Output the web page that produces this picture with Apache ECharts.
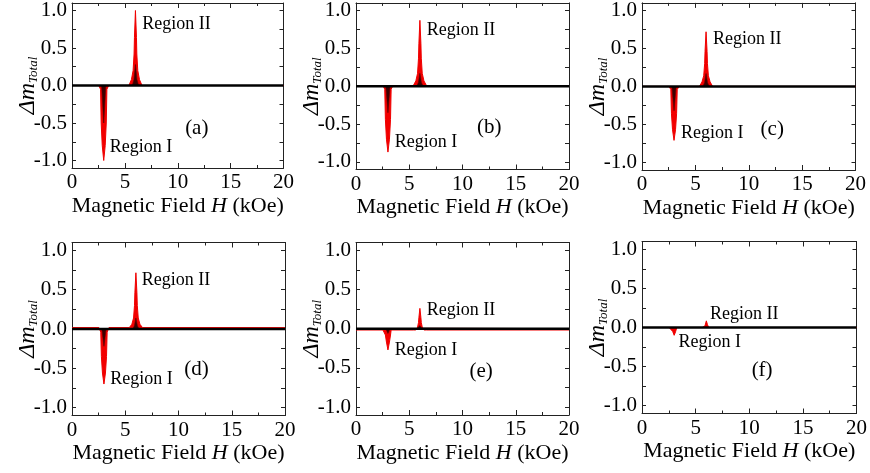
<!DOCTYPE html>
<html><head><meta charset="utf-8">
<script src="https://cdn.jsdelivr.net/npm/echarts@6/dist/echarts.min.js"></script>
<style>html,body{margin:0;padding:0;background:#fff}#c{width:870px;height:473px}</style>
</head><body><div id="c"></div>
<script>
// ---- data ----
const panelTags = ['(a)', '(b)', '(c)', '(d)', '(e)', '(f)'];
const xTicks = [0, 5, 10, 15, 20];
const yTickLabels = [-1.0, -0.5, 0.0, 0.5, 1.0];
const yTickMarks = [-1.0, -0.75, -0.5, -0.25, 0.0, 0.25, 0.5, 0.75, 1.0];

// field values (kOe) for the bright red envelope
const fieldRed = [0, 2.53, 2.70, 2.76, 2.86, 3.0, 3.14, 3.24, 3.30, 3.47, 5.38, 5.62, 5.78, 5.87, 5.905, 6.0, 6.095, 6.13, 6.22, 6.38, 6.62, 20];
const redA = [0, 0, -0.05, -0.5, -0.8, -1.0, -0.8, -0.5, -0.05, 0, 0, 0.08, 0.2, 0.42, 0.64, 1.0, 0.64, 0.42, 0.2, 0.08, 0, 0];
const redB = [0.008, 0.008, -0.04, -0.44, -0.7, -0.87, -0.7, -0.44, -0.04, 0.008, 0.008, 0.07, 0.17, 0.37, 0.56, 0.87, 0.56, 0.37, 0.17, 0.07, 0.008, 0.008];
const redC = [0, 0, -0.04, -0.36, -0.57, -0.71, -0.57, -0.36, -0.04, 0, 0, 0.06, 0.14, 0.3, 0.46, 0.72, 0.46, 0.3, 0.14, 0.06, 0, 0];
const redD = [0.018, 0.018, -0.04, -0.35, -0.56, -0.70, -0.56, -0.35, -0.04, 0.018, 0.018, 0.06, 0.14, 0.3, 0.46, 0.715, 0.46, 0.3, 0.14, 0.06, 0.018, 0.018];
const redE = [-0.016, -0.016, -0.016, -0.08, -0.17, -0.27, -0.17, -0.08, -0.016, -0.016, -0.016, -0.016, 0.02, 0.08, 0.14, 0.26, 0.14, 0.08, 0.02, -0.016, -0.016, -0.016];
const redF = [0, 0, 0, 0, -0.05, -0.10, -0.05, 0, 0, 0, 0, 0, 0, 0.02, 0.04, 0.085, 0.04, 0.02, 0, 0, 0, 0];

// field values (kOe) for the dark core
const fieldDark = [0, 2.8, 2.9, 3.0, 3.1, 3.2, 5.7, 5.86, 6.0, 6.14, 6.3, 20];
const darkA = [0, 0, -0.25, -0.5, -0.25, 0, 0, 0.08, 0.28, 0.08, 0, 0];
const darkB = [0, 0, -0.17, -0.35, -0.17, 0, 0, 0.05, 0.17, 0.05, 0, 0];
const darkC = [0, 0, -0.16, -0.32, -0.16, 0, 0, 0.05, 0.17, 0.05, 0, 0];
const darkD = [0, 0, -0.11, -0.22, -0.11, 0, 0, 0.04, 0.14, 0.04, 0, 0];
const darkE = [0, 0, -0.03, -0.06, -0.03, 0, 0, 0.01, 0.04, 0.01, 0, 0];
const darkF = [0, 0, 0, 0, 0, 0, 0, 0, 0, 0, 0, 0];

const zeroLine = [[0, 0], [20, 0]];

// annotation anchors in data coordinates: [x, y]
const regionIIAt = [[6.6, 0.82], [6.6, 0.74], [6.6, 0.62], [6.5, 0.62], [6.6, 0.24], [6.3, 0.17]];
const regionIAt = [[3.53, -0.82], [3.6, -0.74], [3.6, -0.62], [3.55, -0.635], [3.6, -0.27], [3.35, -0.19]];
const tagAt = [[11.8, -0.57], [12.5, -0.54], [12.2, -0.56], [11.7, -0.52], [11.75, -0.54], [11.2, -0.55]];

const reds = [redA, redB, redC, redD, redE, redF];
const darks = [darkA, darkB, darkC, darkD, darkE, darkF];

// ---- layout ----
const grids = [
  {left: 72, top: -2, width: 211.5, height: 170},
  {left: 356, top: 0, width: 213, height: 169.5},
  {left: 642, top: -1, width: 213.5, height: 171},
  {left: 72, top: 242.5, width: 213, height: 173},
  {left: 356, top: 242.5, width: 213, height: 172.5},
  {left: 642, top: 241.5, width: 215, height: 172}
];
const FF = "'Liberation Serif', 'Times New Roman', serif";
const TXT = '#000';
const AX = '#222';

const xAxis = [], yAxis = [], series = [];
grids.forEach((g, i) => {
  const common = {
    gridIndex: i, type: 'value', min: 0, max: 20, interval: 5,
    axisLine: {onZero: false, lineStyle: {color: AX, width: 1}},
    axisTick: {inside: true, length: 5, lineStyle: {color: AX}},
    minorTick: {show: true, splitNumber: 2, length: 3, lineStyle: {color: AX}},
    splitLine: {show: false}, minorSplitLine: {show: false}
  };
  xAxis.push(Object.assign({}, common, {
    position: 'bottom',
    axisLabel: {fontFamily: FF, fontSize: 21, color: TXT, margin: 4},
    name: 'Magnetic Field {i|H} (kOe)', nameLocation: 'middle', nameGap: 27,
    nameTextStyle: {fontFamily: FF, fontSize: 22, color: TXT,
      rich: {i: {fontFamily: FF, fontSize: 22, fontStyle: 'italic', color: TXT}}}
  }));
  xAxis.push(Object.assign({}, common, {position: 'top', axisLabel: {show: false}}));
  const ycommon = {
    gridIndex: i, type: 'value', min: -1.1, max: 1.1,
    axisLine: {onZero: false, lineStyle: {color: AX, width: 1}},
    axisTick: {inside: true, length: 4, customValues: yTickMarks, lineStyle: {color: AX}},
    splitLine: {show: false}
  };
  yAxis.push(Object.assign({}, ycommon, {
    position: 'left',
    axisLabel: {fontFamily: FF, fontSize: 21, color: TXT, margin: 5, customValues: yTickLabels,
      formatter: v => Number(v).toFixed(1)},
    name: '{d|Δm}{s|Total}', nameLocation: 'middle', nameRotate: 90, nameGap: 31,
    nameMoveOverlap: false,
    nameTextStyle: {fontFamily: FF, color: TXT,
      rich: {
        d: {fontFamily: FF, fontSize: 24, fontStyle: 'italic', color: TXT, lineHeight: 26, verticalAlign: 'middle'},
        s: {fontFamily: FF, fontSize: 13, fontStyle: 'italic', color: TXT, lineHeight: 26, verticalAlign: 'bottom', padding: [0, 0, 1, 0]}
      }}
  }));
  yAxis.push(Object.assign({}, ycommon, {position: 'right', axisLabel: {show: false}}));

  series.push({
    type: 'line', xAxisIndex: 2 * i, yAxisIndex: 2 * i, symbol: 'none', z: 2,
    data: fieldRed.map((h, k) => [h, reds[i][k]]),
    lineStyle: {color: '#f00000', width: 1},
    areaStyle: {color: '#f20000', opacity: 1}
  });
  series.push({
    type: 'line', xAxisIndex: 2 * i, yAxisIndex: 2 * i, symbol: 'none', z: 3,
    data: fieldDark.map((h, k) => [h, darks[i][k]]),
    lineStyle: {color: '#5a0000', width: 0.6},
    areaStyle: {color: '#300000', opacity: 0.95}
  });
  const lab = (coord, text, pos, size) => ({
    coord: coord, symbol: 'circle', symbolSize: 1, itemStyle: {color: 'rgba(0,0,0,0)'},
    label: {show: true, position: pos, distance: 0, formatter: text, fontFamily: FF, fontSize: size, color: TXT}
  });
  series.push({
    type: 'line', xAxisIndex: 2 * i, yAxisIndex: 2 * i, symbol: 'none', z: 5,
    data: zeroLine, lineStyle: {color: '#000', width: 2.6},
    markPoint: {
      silent: true,
      data: [
        lab(regionIIAt[i], 'Region II', 'right', 18),
        lab(regionIAt[i], 'Region I', 'right', 18),
        lab(tagAt[i], panelTags[i], 'inside', 21)
      ]
    }
  });
});

const chart = echarts.init(document.getElementById('c'), null, {renderer: 'canvas'});
chart.setOption({
  animation: false,
  backgroundColor: '#fff',
  grid: grids,
  xAxis: xAxis,
  yAxis: yAxis,
  series: series
});
</script></body></html>
